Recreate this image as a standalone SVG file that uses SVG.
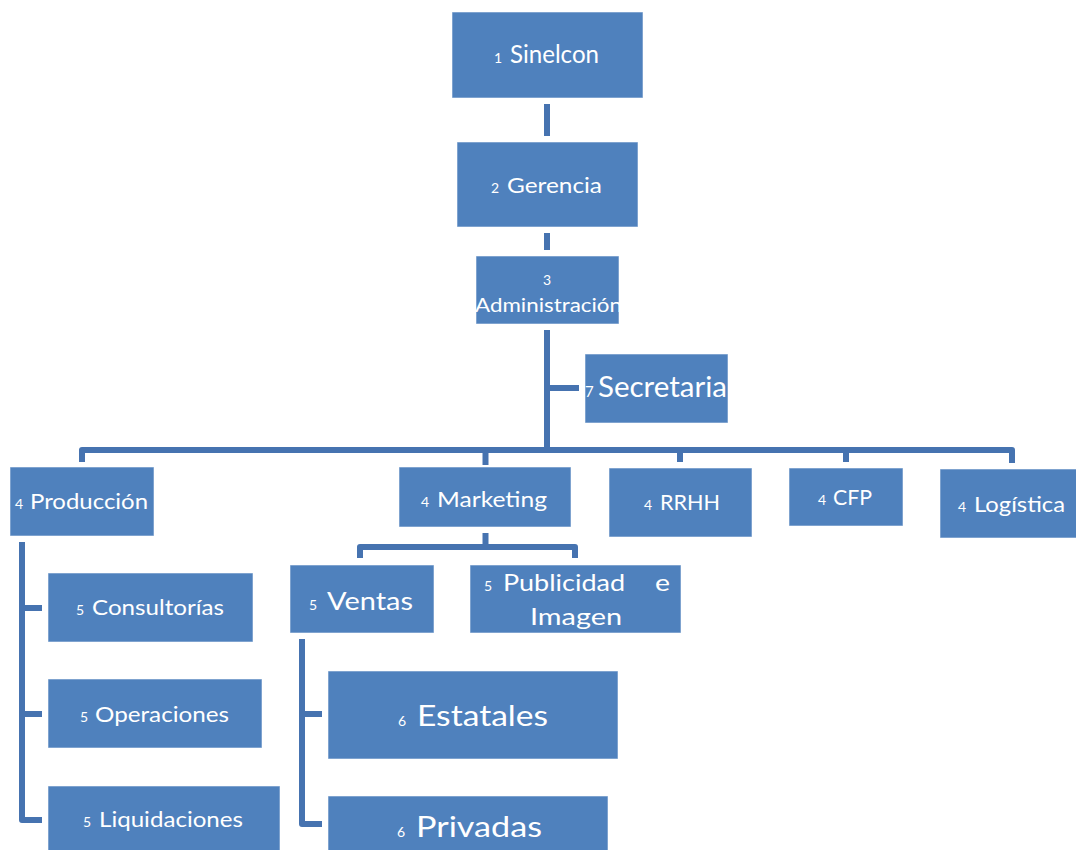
<svg xmlns="http://www.w3.org/2000/svg" width="1076" height="850" viewBox="0 0 1076 850">
<style>
.box{fill:#4F81BD;stroke:#ffffff;stroke-opacity:0.55;stroke-width:1}
.con{fill:none;stroke:#4673B0;stroke-width:6;stroke-linejoin:round}
text{font-family:Lato,"Open Sans","Liberation Sans",sans-serif;fill:#ffffff}
.d{font-size:14px}
.m{font-size:22px}
.l{font-size:25px}
.xl{font-size:29px}
</style>
<defs>
<clipPath id="clipAdm"><rect x="476" y="256" width="143" height="68"/></clipPath>
</defs>
<rect width="1076" height="850" fill="#ffffff"/>
<g id="connectors">
<path class="con" d="M547 104V136"/>
<path class="con" d="M547 233V250"/>
<path class="con" d="M547 330V450"/>
<path class="con" d="M547 388H579"/>
<path class="con" d="M82 462V450H1012V463"/>
<path class="con" d="M485.5 450V465"/>
<path class="con" d="M680 450V462"/>
<path class="con" d="M846 450V462"/>
<path class="con" d="M485.5 533V547"/>
<path class="con" d="M360 558V547H575V558"/>
<path class="con" d="M22 542V820H42"/>
<path class="con" d="M22 608H42"/>
<path class="con" d="M22 714H42"/>
<path class="con" d="M302 639V824H322"/>
<path class="con" d="M302 714H322"/>
</g>
<g id="n1">
<rect class="box" x="452" y="12" width="191" height="86"/>
<text class="d" x="494" y="63" font-size="15">1</text>
<text x="510" y="63" font-size="25" textLength="89" lengthAdjust="spacingAndGlyphs">Sinelcon</text>
</g>
<g id="n2">
<rect class="box" x="457" y="142" width="181" height="85"/>
<text class="d" x="491" y="193">2</text>
<text class="m" x="507" y="193" textLength="95" lengthAdjust="spacingAndGlyphs">Gerencia</text>
</g>
<g id="n3">
<rect class="box" x="476" y="256" width="143" height="68"/>
<text class="d" x="547" y="285" text-anchor="middle">3</text>
<g clip-path="url(#clipAdm)">
<text x="475" y="312" font-size="19.5" textLength="147" lengthAdjust="spacingAndGlyphs">Administración</text>
</g>
</g>
<g id="n7">
<rect class="box" x="585" y="354" width="143" height="69"/>
<text x="585" y="397" font-size="15">7</text>
<text x="598" y="397" font-size="28" textLength="129" lengthAdjust="spacingAndGlyphs">Secretaria</text>
</g>
<g id="n4a">
<rect class="box" x="10" y="467" width="144" height="69"/>
<text class="d" x="15" y="509">4</text>
<text class="m" x="30" y="509" textLength="118" lengthAdjust="spacingAndGlyphs">Producción</text>
</g>
<g id="n4b">
<rect class="box" x="399" y="467" width="172" height="60"/>
<text class="d" x="421" y="507">4</text>
<text class="m" x="437" y="507" textLength="110" lengthAdjust="spacingAndGlyphs">Marketing</text>
</g>
<g id="n4c">
<rect class="box" x="609" y="468" width="143" height="69"/>
<text class="d" x="644" y="510">4</text>
<text class="m" x="660" y="510" textLength="60" lengthAdjust="spacingAndGlyphs">RRHH</text>
</g>
<g id="n4d">
<rect class="box" x="789" y="468" width="114" height="58"/>
<text class="d" x="818" y="505">4</text>
<text class="m" x="833" y="505" textLength="39" lengthAdjust="spacingAndGlyphs">CFP</text>
</g>
<g id="n4e">
<rect class="box" x="940" y="469" width="140" height="69"/>
<text class="d" x="958" y="512">4</text>
<text class="m" x="974" y="512" textLength="91" lengthAdjust="spacingAndGlyphs">Logística</text>
</g>
<g id="n5a">
<rect class="box" x="290" y="565" width="144" height="68"/>
<text class="d" x="309" y="610">5</text>
<text class="l" x="327" y="610" textLength="86" lengthAdjust="spacingAndGlyphs">Ventas</text>
</g>
<g id="n5b">
<rect class="box" x="470" y="565" width="211" height="68"/>
<text class="d" x="484" y="591">5</text>
<text x="503" y="591" font-size="23" textLength="122" lengthAdjust="spacingAndGlyphs">Publicidad</text>
<text x="655" y="591" font-size="23" textLength="15" lengthAdjust="spacingAndGlyphs">e</text>
<text x="530" y="625" font-size="23" textLength="92" lengthAdjust="spacingAndGlyphs">Imagen</text>
</g>
<g id="n5c">
<rect class="box" x="48" y="573" width="205" height="69"/>
<text class="d" x="76" y="615">5</text>
<text class="m" x="92" y="615" textLength="132" lengthAdjust="spacingAndGlyphs">Consultorías</text>
</g>
<g id="n5d">
<rect class="box" x="48" y="679" width="214" height="69"/>
<text class="d" x="80" y="722">5</text>
<text class="m" x="95" y="722" textLength="134" lengthAdjust="spacingAndGlyphs">Operaciones</text>
</g>
<g id="n5e">
<rect class="box" x="48" y="786" width="232" height="80"/>
<text class="d" x="83" y="827">5</text>
<text class="m" x="99" y="827" textLength="144" lengthAdjust="spacingAndGlyphs">Liquidaciones</text>
</g>
<g id="n6a">
<rect class="box" x="328" y="671" width="290" height="88"/>
<text class="d" x="398" y="726">6</text>
<text class="xl" x="417" y="726" textLength="131" lengthAdjust="spacingAndGlyphs">Estatales</text>
</g>
<g id="n6b">
<rect class="box" x="328" y="796" width="280" height="80"/>
<text class="d" x="397" y="837">6</text>
<text class="xl" x="416" y="837" textLength="126" lengthAdjust="spacingAndGlyphs">Privadas</text>
</g>
</svg>
